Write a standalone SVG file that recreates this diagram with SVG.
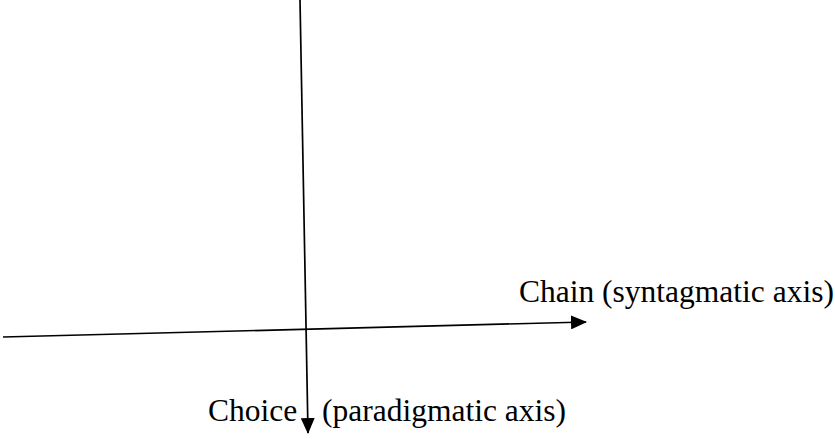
<svg xmlns="http://www.w3.org/2000/svg" width="835" height="439" viewBox="0 0 835 439">
<style>
.lbl{font-family:"Liberation Serif","Times New Roman",serif;font-size:31.5px;fill:#000}
.ax{stroke:#000;stroke-width:1.7;fill:none}
</style>
<defs>
<marker id="ahv" markerWidth="16" markerHeight="14" refX="15" refY="7" orient="auto" markerUnits="userSpaceOnUse" viewBox="0 0 16 14">
<path d="M0,0 L16,7 L0,14 Z" fill="#000"/>
</marker>
</defs>
<g id="connectors">
<line class="ax" x1="3" y1="337" x2="586" y2="322" marker-end="url(#ahv)"/>
<line class="ax" x1="300" y1="0" x2="308" y2="433" marker-end="url(#ahv)"/>
</g>
<g id="chain"><text class="lbl" x="519" y="302">Chain (syntagmatic axis)</text></g>
<g id="choice"><text class="lbl" x="208" y="421">Choice</text><text class="lbl" x="322" y="421">(paradigmatic axis)</text></g>
</svg>
